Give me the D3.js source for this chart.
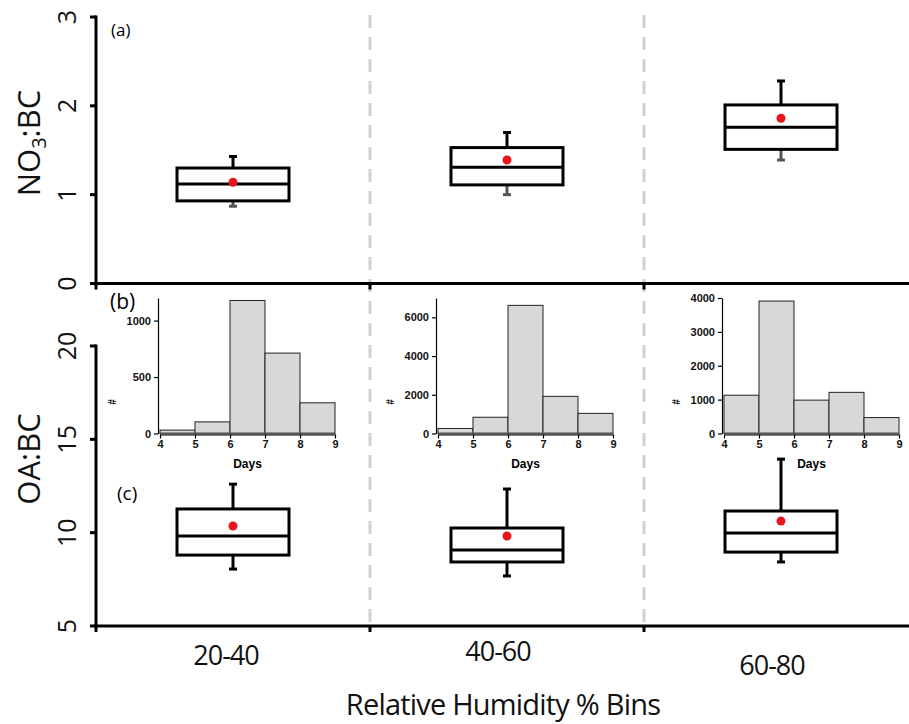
<!DOCTYPE html>
<html><head><meta charset="utf-8">
<script src="https://cdn.jsdelivr.net/npm/d3@7"></script>
<style>body{margin:0;background:#fff}svg{display:block}</style>
</head><body>
<script>
// ---------- data ----------
const bins = ["20-40", "40-60", "60-80"];
// NO3:BC box stats per RH bin: [whiskerLow, q1, median, q3, whiskerHigh]
const no3Box = [[0.87, 0.93, 1.12, 1.30, 1.43], [1.00, 1.11, 1.31, 1.53, 1.70], [1.39, 1.51, 1.76, 2.01, 2.28]];
const no3Mean = [1.14, 1.39, 1.86];
// OA:BC box stats
const oaBox = [[8.05, 8.80, 9.82, 11.27, 12.60], [7.68, 8.43, 9.07, 10.25, 12.34], [8.43, 8.96, 9.98, 11.16, 13.94]];
const oaMean = [10.36, 9.82, 10.62];
// histograms of days (bin starts 4..8)
const dayEdges = [4, 5, 6, 7, 8, 9];
const hist1 = [30, 103, 1178, 712, 272];
const hist2 = [260, 840, 6620, 1920, 1040];
const hist3 = [1130, 3910, 985, 1215, 470];
const histTicks = [[0, 500, 1000], [0, 2000, 4000, 6000], [0, 1000, 2000, 3000, 4000]];
const histMax = [1200, 7000, 4000];
const no3Ticks = [0, 1, 2, 3];
const oaTicks = [5, 10, 15, 20];

// ---------- layout ----------
const W = 909, H = 724;
const svg = d3.select("body").append("svg").attr("width", W).attr("height", H);
const mainFont = "'Open Sans', 'Noto Sans', sans-serif";
const histFont = "'Liberation Sans', Arial, sans-serif";

const x = d3.scaleBand().domain(bins).range([96, 918]).padding(0);
const yTop = d3.scaleLinear().domain([0, 3]).range([283.5, 17]);
const yBot = d3.scaleLinear().domain([5, 20]).range([626, 346]);

// dashed separators
const bounds = bins.slice(1).map(b => x(b));
svg.selectAll("line.sep").data(bounds).join("line")
  .attr("x1", d => d).attr("x2", d => d).attr("y1", 15).attr("y2", 622)
  .attr("stroke", "#d0d0d0").attr("stroke-width", 3).attr("stroke-dasharray", "13,9");

function yAxisPanel(scale, ticks) {
  const [r0, r1] = scale.range();
  svg.append("line").attr("x1", 96).attr("x2", 96).attr("y1", r1 - 1.5).attr("y2", r0 + 1.5)
    .attr("stroke", "#000").attr("stroke-width", 3);
  svg.selectAll(null).data(ticks).join("line")
    .attr("x1", 90).attr("x2", 96).attr("y1", d => scale(d)).attr("y2", d => scale(d))
    .attr("stroke", "#000").attr("stroke-width", 3);
  svg.selectAll(null).data(ticks).join("text")
    .attr("transform", d => `translate(76,${scale(d)}) rotate(-90)`)
    .attr("text-anchor", "middle").attr("font-family", mainFont).attr("font-size", 25)
    .attr("fill", "#111").text(d => d);
}
function xAxisLine(y) {
  svg.append("line").attr("x1", 94).attr("x2", W).attr("y1", y).attr("y2", y)
    .attr("stroke", "#000").attr("stroke-width", 3);
  svg.selectAll(null).data([96, ...bounds]).join("line")
    .attr("x1", d => d).attr("x2", d => d).attr("y1", y).attr("y2", y + 6)
    .attr("stroke", "#000").attr("stroke-width", 3);
}
yAxisPanel(yTop, no3Ticks);
yAxisPanel(yBot, oaTicks);
xAxisLine(yTop(0));
xAxisLine(yBot(5));

function boxes(data, means, scale, lowColor) {
  const bw = 112, cap = 8;
  const g = svg.append("g");
  data.forEach((s, i) => {
    const cx = x(bins[i]) + x.bandwidth() / 2;
    const [lo, q1, med, q3, hi] = s;
    g.append("line").attr("x1", cx).attr("x2", cx).attr("y1", scale(hi)).attr("y2", scale(q3))
      .attr("stroke", "#000").attr("stroke-width", 3);
    g.append("line").attr("x1", cx - cap / 2).attr("x2", cx + cap / 2).attr("y1", scale(hi)).attr("y2", scale(hi))
      .attr("stroke", "#000").attr("stroke-width", 3);
    g.append("line").attr("x1", cx).attr("x2", cx).attr("y1", scale(q1)).attr("y2", scale(lo))
      .attr("stroke", lowColor).attr("stroke-width", 3);
    g.append("line").attr("x1", cx - cap / 2).attr("x2", cx + cap / 2).attr("y1", scale(lo)).attr("y2", scale(lo))
      .attr("stroke", lowColor).attr("stroke-width", 3);
    g.append("rect").attr("x", cx - bw / 2).attr("y", scale(q3)).attr("width", bw).attr("height", scale(q1) - scale(q3))
      .attr("fill", "none").attr("stroke", "#000").attr("stroke-width", 3);
    g.append("line").attr("x1", cx - bw / 2).attr("x2", cx + bw / 2).attr("y1", scale(med)).attr("y2", scale(med))
      .attr("stroke", "#000").attr("stroke-width", 3);
    g.append("circle").attr("cx", cx).attr("cy", scale(means[i])).attr("r", 4.5).attr("fill", "#e8141e");
  });
}
boxes(no3Box, no3Mean, yTop, "#555");
boxes(oaBox, oaMean, yBot, "#000");

// histograms
const hists = [hist1, hist2, hist3];
const histX0 = [160, 438, 724];
hists.forEach((h, k) => {
  const hx = d3.scaleLinear().domain([4, 9]).range([histX0[k], histX0[k] + 175]);
  const hy = d3.scaleLinear().domain([0, histMax[k]]).range([433.5, 298]);
  const g = svg.append("g");
  g.selectAll("rect").data(h).join("rect")
    .attr("x", (d, i) => hx(dayEdges[i])).attr("y", d => hy(d))
    .attr("width", (d, i) => hx(dayEdges[i + 1]) - hx(dayEdges[i]))
    .attr("height", d => hy(0) - hy(d))
    .attr("fill", "#d8d8d8").attr("stroke", "#222").attr("stroke-width", 1);
  g.append("line").attr("x1", hx(4)).attr("x2", hx(9)).attr("y1", hy(0)).attr("y2", hy(0))
    .attr("stroke", "#555").attr("stroke-width", 2);
  const ax = g.append("g").attr("transform", `translate(0,${hy(0) + 1})`)
    .call(d3.axisBottom(hx).tickValues(dayEdges).tickSize(4).tickSizeOuter(0).tickFormat(d3.format("d")));
  const ay = g.append("g").attr("transform", `translate(${hx(4) - 2},0)`)
    .call(d3.axisLeft(hy).tickValues(histTicks[k]).tickSize(4).tickSizeOuter(0).tickFormat(d3.format("d")));
  [ax, ay].forEach(a => {
    a.select(".domain").attr("stroke", "#000").attr("stroke-width", 1.2);
    a.selectAll(".tick line").attr("stroke", "#000").attr("stroke-width", 1.2);
    a.selectAll("text").attr("font-family", histFont).attr("font-weight", "bold")
      .attr("font-size", 11).attr("fill", "#111");
  });
  ax.selectAll("text").attr("dy", "0.6em");
  g.append("text").attr("x", (hx(4) + hx(9)) / 2).attr("y", 468).attr("text-anchor", "middle")
    .attr("font-family", histFont).attr("font-weight", "bold").attr("font-size", 12).text("Days");
  g.append("text").attr("transform", `translate(${hx(4) - 44},402) rotate(-90)`).attr("text-anchor", "middle")
    .attr("font-family", histFont).attr("font-weight", "bold").attr("font-size", 10).text("#");
});

// labels
svg.append("text").attr("x", 111).attr("y", 36).attr("font-family", mainFont).attr("font-size", 17).text("(a)");
svg.append("text").attr("x", 110).attr("y", 309).attr("font-family", mainFont).attr("font-size", 21).text("(b)");
svg.append("text").attr("x", 117).attr("y", 500).attr("font-family", mainFont).attr("font-size", 19).text("(c)");

const yl1 = svg.append("text").attr("transform", "translate(40,143) rotate(-90)").attr("text-anchor", "middle")
  .attr("font-family", mainFont).attr("font-size", 31).attr("fill", "#111");
yl1.append("tspan").text("NO");
yl1.append("tspan").attr("font-size", 20).attr("dy", 6).text("3");
yl1.append("tspan").attr("dy", -6).text(":BC");
svg.append("text").attr("transform", "translate(40,459) rotate(-90)").attr("text-anchor", "middle")
  .attr("font-family", mainFont).attr("font-size", 31).attr("fill", "#111").text("OA:BC");

const labDx = [-7, -9, -9], labY = [665, 661, 675];
svg.selectAll("text.cat").data(bins).join("text")
  .attr("x", (d, i) => x(d) + x.bandwidth() / 2 + labDx[i]).attr("y", (d, i) => labY[i])
  .attr("text-anchor", "middle").attr("font-family", mainFont).attr("font-size", 27).attr("fill", "#111")
  .attr("letter-spacing", -1).text(d => d);
svg.append("text").attr("x", 503).attr("y", 715).attr("text-anchor", "middle")
  .attr("font-family", mainFont).attr("font-size", 29).attr("fill", "#111").attr("letter-spacing", -0.8)
  .text("Relative Humidity % Bins");
</script>
</body></html>
